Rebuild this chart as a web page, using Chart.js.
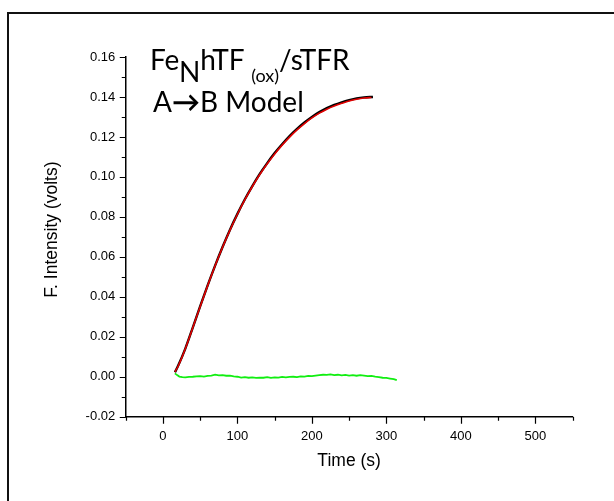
<!DOCTYPE html>
<html>
<head>
<meta charset="utf-8">
<script src="https://cdn.jsdelivr.net/npm/chart.js@4.4.1/dist/chart.umd.min.js"></script>
<style>
    body { margin: 0; background: #fff; }
    #wrap { position: relative; width: 614px; height: 501px; overflow: hidden; }
    #frame { position: absolute; left: 7px; top: 12px; right: -10px; bottom: -10px;
             border-top: 2px solid #111; border-left: 2px solid #111; pointer-events: none; }
    .note { position: absolute; font-family: Lato, "Open Sans", sans-serif; font-size: 28px;
            color: #000; white-space: nowrap; line-height: 1; }
    .lo { position: relative; top: 12px; }
    .small { font-size: 18px; position: relative; top: 12px; }
</style>
</head>
<body>
<div id="wrap">
    <canvas id="kinChart" width="614" height="501"></canvas>
    <div id="frame"></div>
    <div class="note" style="left:150px; top:45px;">Fe<span class="lo">N</span>hTF <span class="small">(ox)</span>/sTFR</div>
    <div class="note" style="left:153px; top:87px;">A<b>→</b>B Model</div>
</div>
<script>
document.addEventListener("DOMContentLoaded", () => {

    // measured trace (black), A->B fit (red), residuals (green)
    const dataTime = [16, 20, 30, 40, 50, 60, 70, 80, 90, 100, 110, 120, 130, 140, 150,
                      160, 170, 180, 190, 200, 210, 220, 230, 240, 250, 260, 270, 282];
    const dataValues = [0.0022, 0.0052, 0.0141, 0.0246, 0.0353, 0.0457, 0.0556, 0.0649, 0.0736,
                        0.0815, 0.0888, 0.0954, 0.1015, 0.1069, 0.1119, 0.1163, 0.1204, 0.1240,
                        0.1272, 0.1300, 0.1324, 0.1344, 0.1360, 0.1373, 0.1384, 0.1393, 0.1398, 0.1400];

    const fitTime = [16, 20, 30, 40, 50, 60, 70, 80, 90, 100, 110, 120, 130, 140, 150,
                     160, 170, 180, 190, 200, 210, 220, 230, 240, 250, 260, 270, 280];
    const fitValues = [0.0025, 0.0050, 0.0140, 0.0245, 0.0352, 0.0456, 0.0555, 0.0648, 0.0734,
                       0.0813, 0.0886, 0.0952, 0.1012, 0.1066, 0.1115, 0.1159, 0.1199, 0.1235,
                       0.1267, 0.1295, 0.1319, 0.1339, 0.1355, 0.1368, 0.1380, 0.1389, 0.1395, 0.1397];

    const residTime = [16, 19, 22, 26, 30, 35, 40, 45, 50, 55, 60, 65, 70, 75, 80, 85, 90, 95,
                       100, 105, 110, 115, 120, 125, 130, 135, 140, 145, 150, 155, 160, 165,
                       170, 175, 180, 185, 190, 195, 200, 205, 210, 215, 220, 225, 230, 235,
                       240, 245, 250, 255, 260, 265, 270, 275, 280, 285, 290, 295, 300, 305, 310, 314];
    const residValues = [0.0017, 0.0008, 0.0001, -0.0002, -0.0003, -0.0001, 0.0000, 0.0002, 0.0003,
                         0.0001, 0.0004, 0.0006, 0.0010, 0.0007, 0.0008, 0.0005, 0.0006, 0.0002,
                         0.0000, -0.0004, -0.0002, -0.0005, -0.0003, -0.0006, -0.0004, -0.0005,
                         -0.0002, -0.0006, -0.0003, -0.0004, -0.0001, -0.0003, -0.0001, 0.0000,
                         -0.0002, 0.0002, 0.0001, 0.0004, 0.0003, 0.0006, 0.0008, 0.0010, 0.0009,
                         0.0012, 0.0008, 0.0010, 0.0007, 0.0009, 0.0006, 0.0008, 0.0005, 0.0008,
                         0.0006, 0.0003, 0.0004, 0.0000, -0.0002, -0.0005, -0.0006, -0.0009,
                         -0.0012, -0.0017];

    const xMin = -50, xMax = 550, xStep = 50;
    const yMin = -0.02, yMax = 0.16, yStep = 0.01;

    const pts = (xs, ys) => xs.map((x, i) => ({ x: x, y: ys[i] }));

    // outward tick marks, long at labelled values, short in between
    const tickMarks = {
        id: "tickMarks",
        afterDraw(chart) {
            const ctx = chart.ctx;
            const xs = chart.scales.x, ys = chart.scales.y;
            ctx.save();
            ctx.strokeStyle = "#000";
            ctx.lineWidth = 1.2;
            ctx.beginPath();
            xs.ticks.forEach(t => {
                const px = Math.round(xs.getPixelForValue(t.value)) + 0.5;
                const major = Math.abs(t.value % 100) < 1e-6;
                ctx.moveTo(px, xs.top);
                ctx.lineTo(px, xs.top + (major ? 7 : 4));
            });
            ys.ticks.forEach(t => {
                const py = Math.round(ys.getPixelForValue(t.value)) + 0.5;
                const major = Math.round(t.value * 100) % 2 === 0;
                ctx.moveTo(ys.right, py);
                ctx.lineTo(ys.right - (major ? 6 : 4), py);
            });
            ctx.stroke();
            ctx.restore();
        }
    };

    const ctx = document.getElementById("kinChart");

    new Chart(ctx, {

        type: "line",

        data: {
            datasets: [
                {
                    label: "Fit",
                    data: pts(fitTime, fitValues),
                    borderColor: "#e00000",
                    borderWidth: 1.6,
                    pointRadius: 0,
                    cubicInterpolationMode: "monotone",
                    order: 1
                },
                {
                    label: "Data",
                    data: pts(dataTime, dataValues),
                    borderColor: "#000",
                    borderWidth: 2.4,
                    pointRadius: 0,
                    cubicInterpolationMode: "monotone",
                    order: 2
                },
                {
                    label: "Residuals",
                    data: pts(residTime, residValues),
                    borderColor: "#11ee11",
                    borderWidth: 1.8,
                    pointRadius: 0,
                    tension: 0,
                    order: 3
                }
            ]
        },

        options: {
            responsive: false,
            animation: false,
            layout: { padding: { top: 57, right: 41.5, bottom: 0, left: 0 } },
            plugins: {
                legend: { display: false },
                tooltip: { enabled: false }
            },
            scales: {
                x: {
                    type: "linear",
                    min: xMin,
                    max: xMax,
                    afterFit: s => { s.height = 84.3; },
                    border: { display: true, color: "#000", width: 1.5 },
                    grid: { display: true, drawOnChartArea: false, drawTicks: false },
                    ticks: {
                        stepSize: xStep,
                        autoSkip: false,
                        maxRotation: 0,
                        padding: 12,
                        color: "#000",
                        font: { family: "Liberation Sans, Arial", size: 13 },
                        callback: v => (Math.abs(v % 100) < 1e-6 ? String(v) : "")
                    },
                    title: {
                        display: true,
                        text: "Time (s)",
                        color: "#000",
                        font: { family: "Liberation Sans, Arial", size: 17.5 },
                        padding: { top: 0, bottom: 29 }
                    }
                },
                y: {
                    min: yMin,
                    max: yMax,
                    afterFit: s => { s.width = 125.75; },
                    border: { display: true, color: "#000", width: 1.5 },
                    grid: { display: true, drawOnChartArea: false, drawTicks: false },
                    ticks: {
                        stepSize: yStep,
                        autoSkip: false,
                        padding: 10.5,
                        color: "#000",
                        font: { family: "Liberation Sans, Arial", size: 13 },
                        callback: v => (Math.round(v * 100) % 2 === 0 ? v.toFixed(2) : "")
                    },
                    title: {
                        display: true,
                        // leading spaces nudge the centred title up the axis, as in the original
                        text: "   F. Intensity (volts)",
                        color: "#000",
                        font: { family: "Liberation Sans, Arial", size: 17.5 },
                        padding: { top: 42, bottom: 0 }
                    }
                }
            }
        },

        plugins: [tickMarks]

    });

});
</script>
</body>
</html>
